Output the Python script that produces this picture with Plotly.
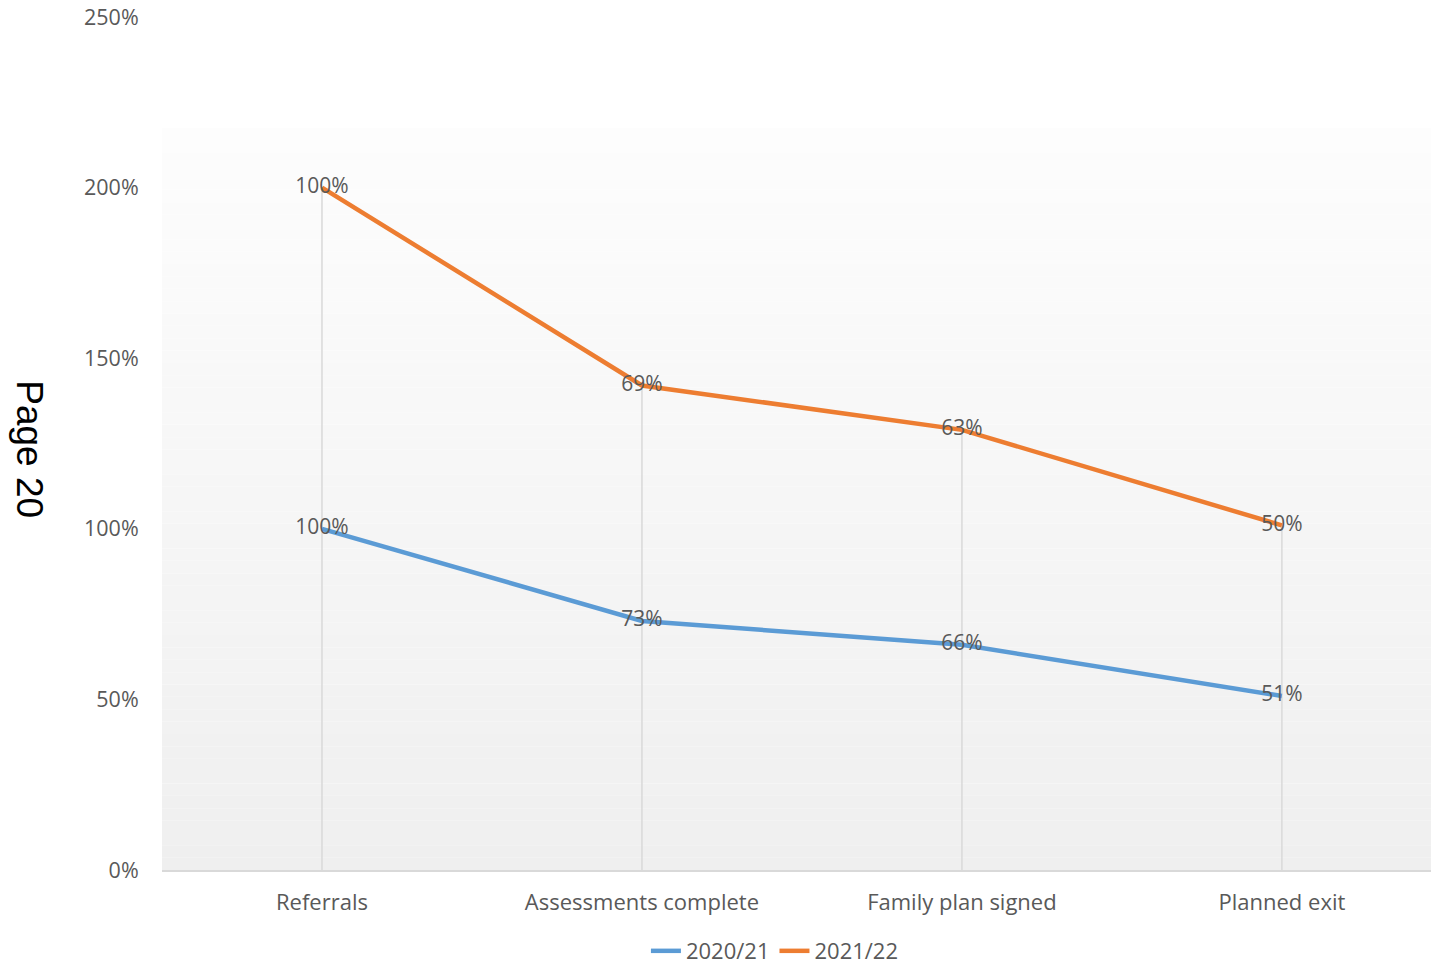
import numpy as np
import plotly.graph_objects as go

categories = ["Referrals", "Assessments complete", "Family plan signed", "Planned exit"]
series_2020 = [1.00, 0.73, 0.66, 0.51]
series_2021 = [1.00, 0.69, 0.63, 0.50]
y_ticks = [0, 0.5, 1.0, 1.5, 2.0, 2.5]
y_tick_labels = ["0%", "50%", "100%", "150%", "200%", "250%"]

BLUE = "#5b9bd5"
ORANGE = "#ed7d31"
TXT = "#595959"
FONT = "Open Sans"

# stacked line chart
s1 = np.array(series_2020)
s2 = s1 + np.array(series_2021)

fig = go.Figure()

# drop lines from each category's top stacked value down to the axis
dx, dy = [], []
for c, top in zip(categories, s2):
    dx += [c, c, None]
    dy += [0, top, None]
fig.add_trace(go.Scatter(x=dx, y=dy, mode="lines", line=dict(color="#d9d9d9", width=1.5),
                         showlegend=False, hoverinfo="skip"))

fig.add_trace(go.Scatter(x=categories, y=s1, name="2020/21", mode="lines+text",
                         line=dict(color=BLUE, width=4.5),
                         text=[f"{v*100:.0f}%" for v in series_2020],
                         textposition="middle center",
                         textfont=dict(family=FONT, size=21, color=TXT)))
fig.add_trace(go.Scatter(x=categories, y=s2, name="2021/22", mode="lines+text",
                         line=dict(color=ORANGE, width=4.5),
                         text=[f"{v*100:.0f}%" for v in series_2021],
                         textposition="middle center",
                         textfont=dict(family=FONT, size=21, color=TXT)))

# gradient background of plot area (near-white -> light gray)
shapes = []
top_paper = (870 - 128) / 853
n = 60
for i in range(n):
    y0 = top_paper * i / n
    y1 = top_paper * (i + 1) / n
    t = (i + 0.5) / n  # 0 bottom, 1 top
    g = int(round(239 + (253 - 239) * t))
    shapes.append(dict(type="rect", xref="paper", yref="paper", x0=0, x1=1, y0=y0, y1=y1,
                       fillcolor=f"rgb({g},{g},{g})", line=dict(width=0), layer="below"))

fig.update_layout(
    width=1431, height=967,
    margin=dict(l=162, r=0, t=17, b=97, autoexpand=False),
    paper_bgcolor="white", plot_bgcolor="rgba(0,0,0,0)",
    shapes=shapes,
    font=dict(family=FONT, size=21, color=TXT),
    xaxis=dict(range=[-0.5, 3.466], showgrid=False, zeroline=False, automargin=False,
               showline=True, linecolor="#d9d9d9", linewidth=1.5,
               ticks="outside", ticklen=0, ticklabelstandoff=12,
               tickfont=dict(family=FONT, size=22, color=TXT)),
    yaxis=dict(range=[0, 2.5], tickvals=y_ticks, ticktext=y_tick_labels, automargin=False,
               showgrid=False, zeroline=False, showline=False,
               ticks="outside", ticklen=0, ticklabelstandoff=18,
               tickfont=dict(family=FONT, size=21.5, color=TXT)),
    legend=dict(orientation="h", x=0.483, xanchor="center", y=-0.095, yanchor="middle",
                font=dict(family=FONT, size=22, color=TXT), bgcolor="rgba(0,0,0,0)"),
    annotations=[dict(text="Page 20", textangle=90, xref="paper", yref="paper",
                      x=-0.105, y=0.4936, xanchor="center", yanchor="middle", showarrow=False,
                      font=dict(family="Liberation Sans", size=37, color="black"))],
)

fig.write_html("out.html")
